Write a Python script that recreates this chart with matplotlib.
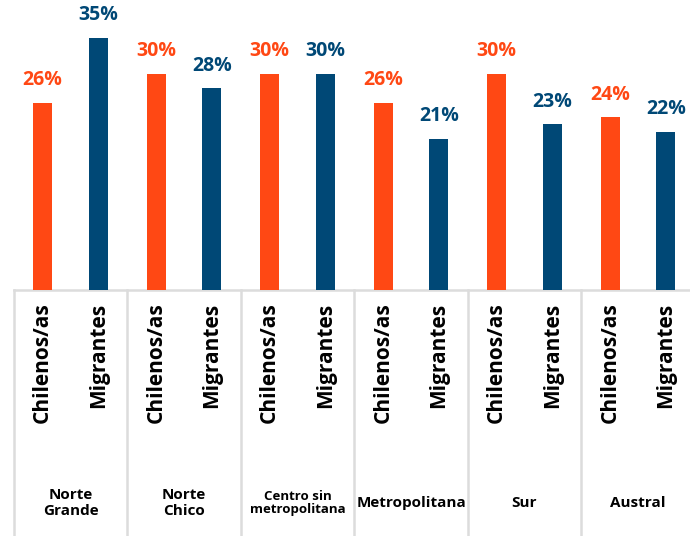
import matplotlib
matplotlib.use("Agg")
import matplotlib.pyplot as plt
from matplotlib.lines import Line2D
import matplotlib.transforms as mtransforms

plt.rcParams['font.family'] = ['Open Sans', 'DejaVu Sans']

regions = ["Norte\nGrande", "Norte\nChico", "Centro sin\nmetropolitana", "Metropolitana", "Sur", "Austral"]
series_names = ["Chilenos/as", "Migrantes"]
chilenos = [26, 30, 30, 26, 30, 24]
migrantes = [35, 28, 30, 21, 23, 22]
colors = ["#FF4814", "#004876"]

W, H = 690, 536
fig = plt.figure(figsize=(W / 100, H / 100), dpi=100)
base_px = 290
ax = fig.add_axes([0, (H - base_px) / H, 1, base_px / H])

px_per_unit = 113.5
center0 = 70.5
ax.set_xlim(-center0 / px_per_unit, (W - center0) / px_per_unit)
ax.set_ylim(0, base_px / 7.2)

off = 0.245
bw = 0.165
xs_all, labels_all = [], []
for g in range(len(regions)):
    for i, (vals, col) in enumerate(zip([chilenos, migrantes], colors)):
        x = g + (-off if i == 0 else off)
        v = vals[g]
        ax.bar(x, v, width=bw, color=col, zorder=2)
        ax.annotate(f"{v}%", (x, v), xytext=(0, 9), textcoords="offset points",
                    ha="center", va="bottom", color=col, fontsize=14, fontweight="bold")
        xs_all.append(x)
        labels_all.append(series_names[i])

ax.set_xticks(xs_all)
ax.set_xticklabels(labels_all, rotation=90, fontsize=15, fontweight="bold", va="top")
ax.tick_params(axis="x", length=0, pad=9)
ax.set_yticks([])
for s in ax.spines.values():
    s.set_visible(False)

trans = mtransforms.blended_transform_factory(ax.transData, ax.transAxes)
bottom = -(H - base_px) / base_px
gray = "#dcdcdc"
for g in range(len(regions)):
    xsep = g - 0.5
    ax.add_line(Line2D([xsep, xsep], [0, bottom], transform=trans, color=gray,
                       lw=1.8, clip_on=False))
ax.add_line(Line2D([-0.5, ax.get_xlim()[1]], [0, 0], transform=trans, color=gray,
                   lw=1.8, clip_on=False, zorder=1))

ylab = (base_px - 503) / base_px
for g, name in enumerate(regions):
    fs = 9.5 if name.startswith("Centro") else 11
    ax.text(g, ylab, name, transform=trans, ha="center", va="center",
            fontsize=fs, fontweight="bold", linespacing=1.1)

fig.savefig("out.png", dpi=100)
